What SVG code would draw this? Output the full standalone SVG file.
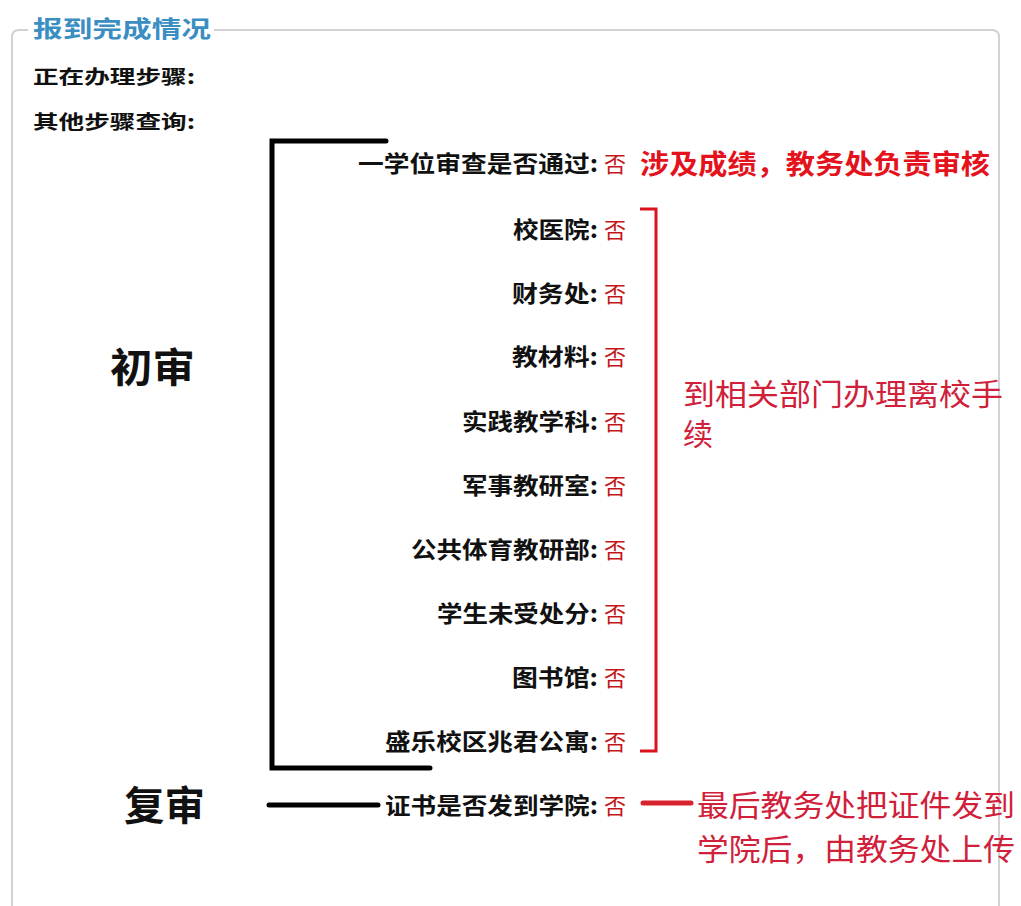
<svg xmlns="http://www.w3.org/2000/svg" width="1021" height="906" viewBox="0 0 1021 906">
<style>
text{font-family:"Noto Sans CJK SC","Noto Sans",sans-serif;dominant-baseline:central}
.lbl{font-size:23px;font-weight:bold;fill:#111}
.no{font-size:22px;fill:#c4161c}
.hd{font-size:19px;font-weight:bold;fill:#111}
.big{font-size:40px;font-weight:bold;fill:#111}
.note{font-size:30px;fill:#d0203a}
.blk{stroke:#000;stroke-width:5;fill:none;stroke-linecap:round;stroke-linejoin:miter}
.red{stroke:#d8141e;stroke-width:3;fill:none}
</style>
<rect width="1021" height="906" fill="#fff"/>
<g id="frame">
<path d="M12 906 V37 Q12 30 19 30 H28 M214 30 H992 Q999 30 999 37 V906" fill="none" stroke="#d2d2d2" stroke-width="2"/>
<text x="33" y="27" font-size="23" font-weight="bold" fill="#3b8ec2" textLength="178" lengthAdjust="spacingAndGlyphs">报到完成情况</text>
</g>
<g id="header">
<text class="hd" x="33" y="75" textLength="162" lengthAdjust="spacingAndGlyphs">正在办理步骤:</text>
<text class="hd" x="33" y="120" textLength="162" lengthAdjust="spacingAndGlyphs">其他步骤查询:</text>
</g>
<g id="stage-initial"><text class="big" x="110" y="365" textLength="85" lengthAdjust="spacingAndGlyphs">初审</text></g>
<g id="stage-final"><text class="big" x="124" y="803" textLength="81" lengthAdjust="spacingAndGlyphs">复审</text></g>
<g id="row-degree"><text class="lbl" x="358" y="162" textLength="240" lengthAdjust="spacingAndGlyphs">一学位审查是否通过:</text><text class="no" x="604" y="162">否</text></g>
<g id="note-degree"><text x="640" y="162" font-size="27" font-weight="bold" fill="#e3121c" textLength="350" lengthAdjust="spacingAndGlyphs">涉及成绩，教务处负责审核</text></g>
<g id="row-hospital"><text class="lbl" x="513" y="228" textLength="85" lengthAdjust="spacingAndGlyphs">校医院:</text><text class="no" x="604" y="228">否</text></g>
<g id="row-finance"><text class="lbl" x="512" y="292" textLength="86" lengthAdjust="spacingAndGlyphs">财务处:</text><text class="no" x="604" y="292">否</text></g>
<g id="row-textbook"><text class="lbl" x="512" y="355" textLength="86" lengthAdjust="spacingAndGlyphs">教材料:</text><text class="no" x="604" y="355">否</text></g>
<g id="row-practice"><text class="lbl" x="462" y="420" textLength="136" lengthAdjust="spacingAndGlyphs">实践教学科:</text><text class="no" x="604" y="420">否</text></g>
<g id="row-military"><text class="lbl" x="462" y="484" textLength="136" lengthAdjust="spacingAndGlyphs">军事教研室:</text><text class="no" x="604" y="484">否</text></g>
<g id="row-pe"><text class="lbl" x="411" y="548" textLength="187" lengthAdjust="spacingAndGlyphs">公共体育教研部:</text><text class="no" x="604" y="548">否</text></g>
<g id="row-discipline"><text class="lbl" x="437" y="612" textLength="161" lengthAdjust="spacingAndGlyphs">学生未受处分:</text><text class="no" x="604" y="612">否</text></g>
<g id="row-library"><text class="lbl" x="512" y="676" textLength="86" lengthAdjust="spacingAndGlyphs">图书馆:</text><text class="no" x="604" y="676">否</text></g>
<g id="row-dorm"><text class="lbl" x="385" y="740" textLength="213" lengthAdjust="spacingAndGlyphs">盛乐校区兆君公寓:</text><text class="no" x="604" y="740">否</text></g>
<g id="row-cert"><text class="lbl" x="385" y="804" textLength="213" lengthAdjust="spacingAndGlyphs">证书是否发到学院:</text><text class="no" x="604" y="804">否</text></g>
<g id="note-depts"><text class="note" x="683" y="392" textLength="320" lengthAdjust="spacingAndGlyphs">到相关部门办理离校手</text><text class="note" x="683" y="432">续</text></g>
<g id="note-cert"><text class="note" x="697" y="803" textLength="318" lengthAdjust="spacingAndGlyphs">最后教务处把证件发到</text><text class="note" x="697" y="847" textLength="318" lengthAdjust="spacingAndGlyphs">学院后，由教务处上传</text></g>
<g id="connectors">
<path class="blk" d="M386 141 H272 V768 H430"/>
<path class="blk" d="M269 805 H378"/>
<path class="red" d="M640 209 H656 V751 H640"/>
<path d="M643 803 H691" stroke="#d8242e" stroke-width="5" stroke-linecap="round"/>
</g>
</svg>
